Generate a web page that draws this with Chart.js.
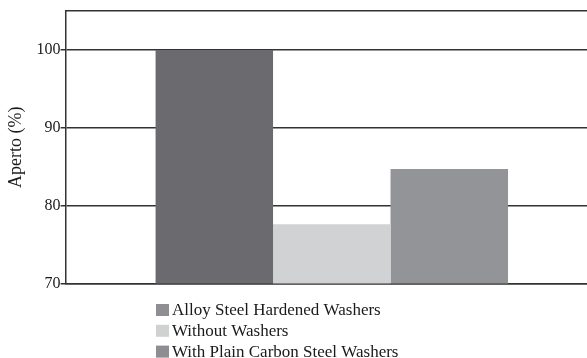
<!DOCTYPE html>
<html>
<head>
<meta charset="utf-8">
<script src="https://cdn.jsdelivr.net/npm/chart.js@4"></script>
<style>
  html, body { margin: 0; padding: 0; background: #fff; overflow: hidden; }
  /* plot runs past the right edge of the window in the reference, so the canvas is a bit wider */
  #wrap { width: 598px; height: 358px; }
</style>
</head>
<body>
<div id="wrap"><canvas id="apertoChart"></canvas></div>
<script>
// Aperto chart: one group of three bars, legend stacked below the plot.

const categories = ['Aperto'];
const seriesNames = ['Alloy Steel Hardened Washers', 'Without Washers', 'With Plain Carbon Steel Washers'];
const alloyValues = [100];
const withoutValues = [77.6];
const plainCarbonValues = [84.7];
const yTicks = [70, 80, 90, 100];

const barColors = ['#6b6b6f', '#d1d2d4', '#939497'];
const legendColors = ['#8f8f93', '#d0d1d3', '#8d8e92'];
const serif = "'Liberation Serif', 'Times New Roman', serif";
const lineColor = '#333333';

// Legend is drawn as a vertical list under the plot (Chart.js legend only wraps rows)
const stackedLegend = {
  id: 'stackedLegend',
  afterDraw(chart) {
    const ctx = chart.ctx;
    const left = 156, top = 310, rowGap = 20.8;
    ctx.save();
    ctx.font = '17px ' + serif;
    ctx.textBaseline = 'middle';
    ctx.textAlign = 'left';
    chart.data.datasets.forEach((ds, i) => {
      const cy = top + i * rowGap;
      ctx.fillStyle = legendColors[i];
      ctx.fillRect(left, cy - 6, 13, 12);
      ctx.fillStyle = '#1a1a1a';
      ctx.fillText(ds.label, left + 16, cy + 1);
    });
    ctx.restore();
  }
};

const datasets = [alloyValues, withoutValues, plainCarbonValues].map((values, i) => ({
  label: seriesNames[i],
  data: values,
  backgroundColor: barColors[i],
  borderWidth: 0,
  barPercentage: 1,
  categoryPercentage: 0.662
}));

new Chart(document.getElementById('apertoChart').getContext('2d'), {
  type: 'bar',
  data: { labels: categories, datasets },
  options: {
    responsive: true,
    maintainAspectRatio: false,
    animation: false,
    layout: { padding: { top: 11, bottom: 74.5, left: 2, right: 0 } },
    scales: {
      x: {
        position: 'bottom',
        grid: { display: false, drawTicks: false },
        ticks: { display: false },
        border: { display: true, color: lineColor, width: 1.5 }
      },
      x2: {
        type: 'category',
        position: 'top',
        grid: { display: false, drawTicks: false },
        ticks: { display: false },
        border: { display: true, color: lineColor, width: 1.5 }
      },
      y: {
        min: 70,
        max: 105,
        afterBuildTicks: (scale) => { scale.ticks = yTicks.map(v => ({ value: v })); },
        ticks: { color: '#1a1a1a', padding: 0, font: { family: serif, size: 16 } },
        grid: { color: lineColor, lineWidth: 1.5, tickLength: 5 },
        border: { display: true, color: lineColor, width: 1.5 },
        title: {
          display: true,
          text: 'Aperto (%)',
          color: '#1a1a1a',
          font: { family: serif, size: 18 },
          padding: { top: 3, bottom: 10 }
        }
      }
    },
    plugins: {
      legend: { display: false },
      tooltip: { enabled: false }
    }
  },
  plugins: [stackedLegend]
});
</script>
</body>
</html>
